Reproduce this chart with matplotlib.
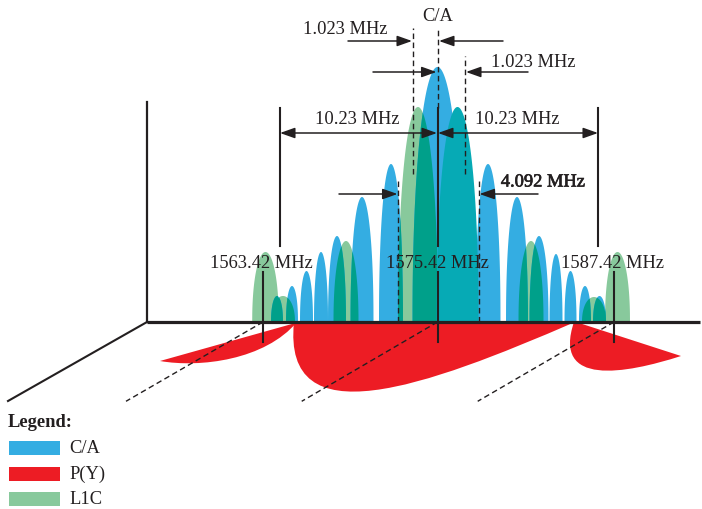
import numpy as np
import matplotlib
matplotlib.use("Agg")
import matplotlib.pyplot as plt
import matplotlib.patheffects as pe
from matplotlib.path import Path
from matplotlib.patches import PathPatch, FancyArrowPatch, Rectangle

plt.rcParams["font.family"] = ["Liberation Serif", "DejaVu Serif"]

# C/A code spectrum: main lobe plus seven side lobes each side
ca_center = [437.5, 391, 362, 337, 321, 306.5, 292, 277,
             488, 517, 539, 556, 570.5, 585, 599.5]
ca_halfwidth = [25.5, 12.5, 12, 9.5, 7.5, 7, 6.5, 6.5,
                13, 11.5, 10, 7, 6.5, 6.5, 7]
ca_height = [255, 158, 125, 86, 70, 51, 36, 26,
             158, 125, 86, 68, 51, 36, 26]

# L1C spectrum lobes
l1c_center = [265.5, 283, 346, 418, 457.5, 531, 594, 617.5]
l1c_halfwidth = [13.3, 12, 12.5, 20, 21, 12.5, 12, 12.5]
l1c_height = [70, 26, 81, 215, 215, 81, 25, 70]
l1c_upper_main = 4  # upper main lobe keeps its own tone

# P(Y) lobes lying on the floor plane (Bezier outline points)
py_main = [(294, 0), (282, -117), (425, -65), (575, 0)]
py_lower = [(297, 0), (265, -38), (200, -46), (160, -39)]
py_upper = [(574, 0), (552, -65), (625, -52), (681, -34)]

freq_labels = ["1563.42 MHz", "1575.42 MHz", "1587.42 MHz"]
freq_x = [263, 437.5, 614]
legend_names = ["C/A", "P(Y)", "L1C"]

BLUE = "#34ade2"
GREEN = "#88c99c"
TEAL = "#00a08a"
CYAN = "#06aab5"
RED = "#ed1c24"
INK = "#231f20"
P = 0.46

fig = plt.figure(figsize=(7.02, 5.10), dpi=100)
ax = fig.add_axes([0, 0, 1, 1])
ax.set_xlim(0, 702)
ax.set_ylim(-187, 323)
ax.axis("off")


def lobe(x, c, hw, h):
    u = (x - c) / hw
    return h * np.clip(1 - u * u, 0, None) ** P


# red P(Y) lobes
verts = py_main + [py_main[0]]
codes = [Path.MOVETO, Path.CURVE4, Path.CURVE4, Path.CURVE4, Path.CLOSEPOLY]
ax.add_patch(PathPatch(Path(verts, codes), fc=RED, ec="none", zorder=1))
for pts in (py_lower, py_upper):
    verts = pts + [(pts[0][0] + 2, 0), pts[0]]
    codes = [Path.MOVETO, Path.CURVE4, Path.CURVE4, Path.CURVE4,
             Path.LINETO, Path.CLOSEPOLY]
    ax.add_patch(PathPatch(Path(verts, codes), fc=RED, ec="none", zorder=1))

xs = np.linspace(240, 640, 16001)

# L1C lobes underneath
G = np.zeros_like(xs)
for i, (c, hw, h) in enumerate(zip(l1c_center, l1c_halfwidth, l1c_height)):
    if i == l1c_upper_main:
        continue
    x = np.linspace(c - hw, c + hw, 400)
    ax.fill(x, lobe(x, c, hw, h), color=GREEN, lw=0, zorder=2)
    G = np.maximum(G, lobe(xs, c, hw, h))

# C/A lobes with a thin gap between neighbours
B = np.zeros_like(xs)
for c, hw, h in zip(ca_center, ca_halfwidth, ca_height):
    w = hw - 0.5
    x = np.linspace(c - w, c + w, 400)
    ax.fill(x, lobe(x, c, w, h), color=BLUE, lw=0, zorder=3)
    B = np.maximum(B, lobe(xs, c, w, h))

# where both spectra overlap
both = np.minimum(B, G)
ax.fill_between(xs, 0, both, where=both > 0, color=TEAL, lw=0, zorder=4)

c, hw, h = (l1c_center[l1c_upper_main], l1c_halfwidth[l1c_upper_main],
            l1c_height[l1c_upper_main])
x = np.linspace(c - hw, c + hw, 400)
ax.fill(x, lobe(x, c, hw, h), color=CYAN, lw=0, zorder=5)

# axes of the pseudo-3D frame
ax.plot([147, 147], [0, 220], color=INK, lw=1.6, zorder=7)
ax.plot([147, 700], [0, 0], color=INK, lw=2.3, zorder=7,
        solid_capstyle="butt")
ax.plot([147, 8], [0, -79], color=INK, lw=1.5, zorder=7)

dash = dict(color=INK, lw=1.0, dashes=(4, 2.5), zorder=6)
ends = [126, 301.7, 477.7]
for fx, ex in zip(freq_x, ends):
    ax.plot([fx, ex], [0, -79.3], **dash)

# vertical markers
for fx in freq_x:
    ax.plot([fx, fx], [50, -20], color=INK, lw=1.5, zorder=6)
for fx in (280, 437.5, 598):
    ax.plot([fx, fx], [76, 214], color=INK, lw=1.5, zorder=6)
ax.plot([437.5, 437.5], [214, 294], **dash)
ax.plot([413, 413], [148, 294], **dash)
ax.plot([465, 465], [148, 266], **dash)
ax.plot([398, 398], [0, 141], **dash)
ax.plot([479, 479], [0, 141], **dash)


def arrow(x0, x1, y, style="-|>"):
    ax.add_patch(FancyArrowPatch(
        (x0, y), (x1, y), arrowstyle=style + ",head_length=0.9,head_width=0.32",
        mutation_scale=10, lw=1.1, color=INK, shrinkA=0, shrinkB=0, zorder=6))


arrow(348, 412, 281)
arrow(503, 439, 281)
arrow(373, 436.5, 250)
arrow(528, 466, 250)
arrow(280, 437, 189, "<|-|>")
arrow(438, 598, 189, "<|-|>")
arrow(339, 397.5, 128)
arrow(538, 479.5, 128)

txt = dict(color=INK, fontsize=13.3, ha="center", va="center", zorder=8)
ax.text(438, 307, "C/A", **txt)
ax.text(345, 294, "1.023 MHz", **txt)
ax.text(533.5, 261, "1.023 MHz", **txt)
ax.text(357.5, 203, "10.23 MHz", **txt)
ax.text(517.5, 203, "10.23 MHz", **txt)
ax.text(543, 140, "4.092 MHz", **txt,
        path_effects=[pe.withStroke(linewidth=0.45, foreground=INK)])
for lx, lab in zip([261, 437.5, 612.5], freq_labels):
    ax.text(lx, 59, lab, **txt)

# legend
ax.text(8, -100, "Legend:", color=INK, fontsize=13.3, fontweight="bold",
        ha="left", va="center")
for k, (name, col) in enumerate(zip(legend_names, [BLUE, RED, GREEN])):
    y = -126 - 25.5 * k
    ax.add_patch(Rectangle((9, y - 7), 51, 14, fc=col, ec="none"))
    ax.text(69, y, name, color=INK, fontsize=13.3, ha="left", va="center")

fig.savefig("out.png", dpi=100)
